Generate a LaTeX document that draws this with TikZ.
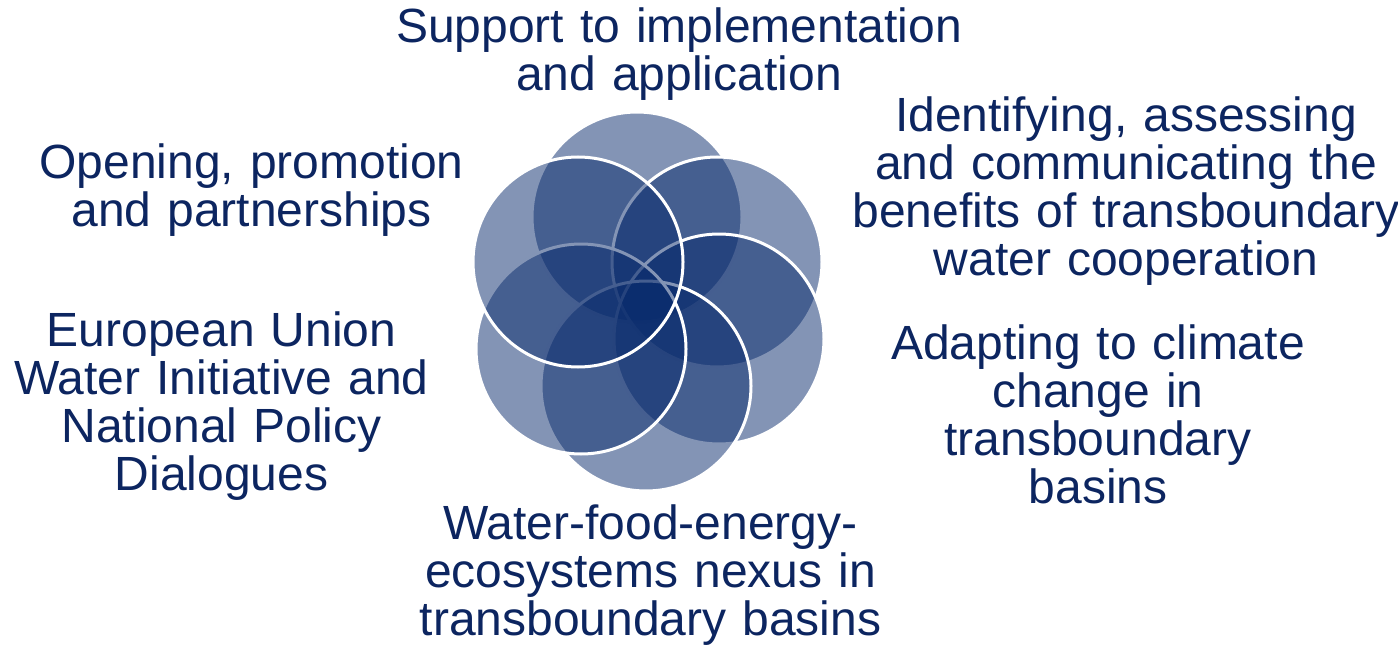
\documentclass[tikz,border=0pt]{standalone}
\usepackage{fontspec}
\setmainfont{Liberation Sans}
\usepackage{xcolor}
\usepackage{tikz}

\definecolor{petalblue}{RGB}{8,42,108}
\definecolor{topicnavy}{RGB}{12,37,96}

\tikzset{
  petal/.style={draw=white, line width=2.25pt, fill=petalblue, fill opacity=0.5},
  topic/.style={font=\fontsize{36}{36}\selectfont, text=topicnavy, align=center,
    text width=450pt, anchor=base, inner sep=0pt}
}

\begin{document}
\begin{tikzpicture}[x=0.75pt,y=0.75pt,yscale=-1,xscale=1]
\useasboundingbox (0,0) rectangle (1398,649);
%Shape: Circle (top)
\draw [petal] (637,217) circle (105);
%Shape: Circle (upper right)
\draw [petal] (717,262) circle (105);
%Shape: Circle (right)
\draw [petal] (719,339) circle (105);
%Shape: Circle (bottom)
\draw [petal] (646,386) circle (105);
%Shape: Circle (lower left)
\draw [petal] (581,349) circle (105);
%Shape: Circle (upper left)
\draw [petal] (578,262) circle (105);
% Text Node
\node [topic] (support) at (679,42.7) {Support to implementation\\and application};
% Text Node
\node [topic] (benefits) at (1126,131.7) {Identifying, assessing\\and communicating the\\benefits of transboundary\\water cooperation};
% Text Node
\node [topic] (climate) at (1098,359.3) {Adapting to climate\\change in\\transboundary\\basins};
% Text Node
\node [topic] (nexus) at (650.5,539.3) {Water-food-energy-\\ecosystems nexus in\\transboundary basins};
% Text Node
\node [topic] (euwi) at (221.5,346) {European Union\\Water Initiative and\\National Policy\\Dialogues};
% Text Node
\node [topic] (opening) at (251.5,178.3) {Opening, promotion\\and partnerships};
\end{tikzpicture}
\end{document}
